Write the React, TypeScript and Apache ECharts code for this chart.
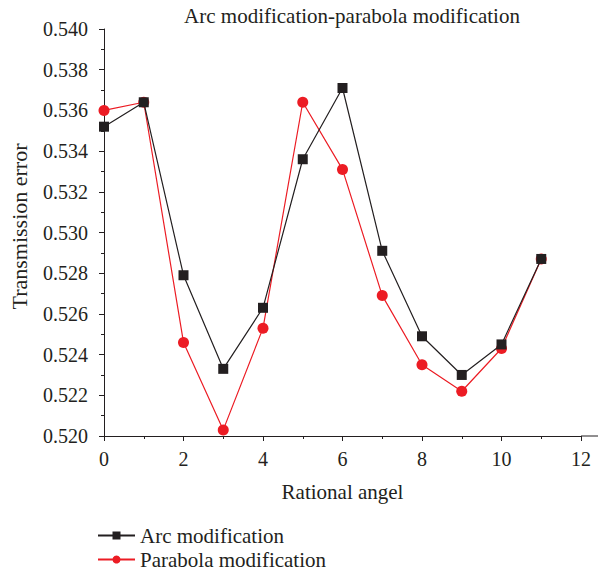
import React, { useEffect, useRef } from "react";
import * as echarts from "echarts";

const angles = [0, 1, 2, 3, 4, 5, 6, 7, 8, 9, 10, 11];
const arcValues = [0.5352, 0.5364, 0.5279, 0.5233, 0.5263, 0.5336, 0.5371, 0.5291, 0.5249, 0.5230, 0.5245, 0.5287];
const parabolaValues = [0.5360, 0.5364, 0.5246, 0.5203, 0.5253, 0.5364, 0.5331, 0.5269, 0.5235, 0.5222, 0.5243, 0.5287];
const seriesNames = ["Arc modification", "Parabola modification"];

const FONT = "Liberation Serif";
const TXT = "#231f20";

export default function App() {
  const ref = useRef<HTMLDivElement>(null);
  useEffect(() => {
    const chart = echarts.init(ref.current!, null, { renderer: "svg" });
    const gridLeft = 100, gridTop = 29, gridRight = 17, gridBottom = 573 - 436;
    chart.setOption({
      animation: false,
      backgroundColor: "#ffffff",
      title: {
        text: "Arc modification-parabola modification",
        left: 347,
        top: 0,
        textAlign: "center",
        textStyle: { fontFamily: FONT, fontWeight: "normal", fontSize: 21, color: TXT },
      },
      legend: {
        orient: "vertical",
        left: 97,
        top: 525,
        padding: 0,
        itemWidth: 37,
        itemHeight: 10,
        itemGap: 3,
        textStyle: { fontFamily: FONT, fontSize: 21, color: TXT },
        data: seriesNames,
      },
      grid: { left: gridLeft, top: gridTop, right: gridRight, bottom: gridBottom },
      xAxis: {
        type: "value",
        min: 0,
        max: 12,
        interval: 2,
        name: "Rational angel",
        nameLocation: "middle",
        nameGap: 45,
        nameTextStyle: { fontFamily: FONT, fontSize: 21, color: TXT },
        axisLine: { lineStyle: { color: TXT, width: 1 } },
        axisTick: { inside: false, length: 5, lineStyle: { color: TXT } },
        minorTick: { show: true, splitNumber: 2, length: 3, lineStyle: { color: TXT } },
        axisLabel: { fontFamily: FONT, fontSize: 20, color: TXT, margin: 13 },
        splitLine: { show: false },
      },
      yAxis: {
        type: "value",
        min: 0.52,
        max: 0.54,
        interval: 0.002,
        name: "Transmission error",
        nameLocation: "middle",
        nameGap: 74,
        nameTextStyle: { fontFamily: FONT, fontSize: 22, color: TXT, padding: [0, 0, 0, 12] },
        axisLine: { show: true, lineStyle: { color: TXT, width: 1 } },
        axisTick: { show: true, inside: false, length: 5, lineStyle: { color: TXT } },
        minorTick: { show: true, splitNumber: 2, length: 3, lineStyle: { color: TXT } },
        axisLabel: {
          fontFamily: FONT,
          fontSize: 20,
          color: TXT,
          margin: 16,
          formatter: (v: number) => v.toFixed(3),
        },
        splitLine: { show: false },
      },
      graphic: [
        {
          type: "line",
          shape: { x1: 598 - gridRight, y1: 436, x2: 598, y2: 436 },
          style: { stroke: TXT, lineWidth: 1 },
        },
      ],
      series: [
        {
          name: seriesNames[0],
          type: "line",
          data: angles.map((a, i) => [a, arcValues[i]]),
          symbol: "rect",
          symbolSize: 10,
          itemStyle: { color: "#231f20" },
          lineStyle: { color: "#231f20", width: 1.2 },
          z: 3,
        },
        {
          name: seriesNames[1],
          type: "line",
          data: angles.map((a, i) => [a, parabolaValues[i]]),
          symbol: "circle",
          symbolSize: 11,
          itemStyle: { color: "#ec1c24" },
          lineStyle: { color: "#ec1c24", width: 1.2 },
          z: 2,
        },
      ],
    });
    return () => chart.dispose();
  }, []);
  return <div ref={ref} style={{ width: 598, height: 573, position: "absolute", left: 0, top: 0 }} />;
}
